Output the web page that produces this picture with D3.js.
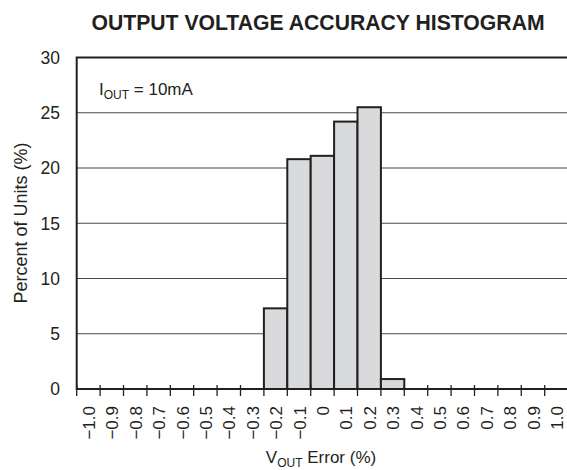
<!DOCTYPE html>
<html>
<head>
<meta charset="utf-8">
<script src="https://cdn.jsdelivr.net/npm/d3@7/dist/d3.min.js"></script>
<style>
  html, body { margin: 0; padding: 0; background: #fff; }
  svg { display: block; }
  text { font-family: "Liberation Sans", Arial, Helvetica, sans-serif; fill: #231f20; }
</style>
</head>
<body>
<svg id="chart" width="567" height="470"></svg>
<script>
// ---- data ----
const binCenters = [-1.0, -0.9, -0.8, -0.7, -0.6, -0.5, -0.4, -0.3, -0.2, -0.1, 0, 0.1, 0.2, 0.3, 0.4, 0.5, 0.6, 0.7, 0.8, 0.9, 1.0];
const binLabels = ["−1.0", "−0.9", "−0.8", "−0.7", "−0.6", "−0.5", "−0.4", "−0.3", "−0.2", "−0.1", "0", "0.1", "0.2", "0.3", "0.4", "0.5", "0.6", "0.7", "0.8", "0.9", "1.0"];
const percentUnits = [0, 0, 0, 0, 0, 0, 0, 0, 7.3, 20.8, 21.1, 24.2, 25.5, 0.9, 0, 0, 0, 0, 0, 0, 0];
const yTicks = [0, 5, 10, 15, 20, 25, 30];
const binWidth = 0.1;

const svg = d3.select("#chart");
const pLeft = 76.7, pRight = 568.1, pTop = 57.5, pBottom = 389;

const x = d3.scaleLinear().domain([-1.05, 1.05]).range([pLeft, pRight]);
const y = d3.scaleLinear().domain([0, 30]).range([pBottom, pTop]);

// title
svg.append("text").attr("x", 318).attr("y", 30).attr("text-anchor", "middle")
  .style("font-size", "21.2px").style("font-weight", "bold").text("OUTPUT VOLTAGE ACCURACY HISTOGRAM");

// gridlines
svg.append("g").selectAll("line").data(yTicks.filter(d => d > 0 && d < 30)).join("line")
  .attr("x1", pLeft).attr("x2", pRight).attr("y1", d => y(d)).attr("y2", d => y(d))
  .attr("stroke", "#4a4a4a").attr("stroke-width", 1.1);

// bars
const bars = binCenters.map((c, i) => ({ c, v: percentUnits[i] })).filter(d => d.v > 0);
svg.append("g").selectAll("rect").data(bars).join("rect")
  .attr("x", d => x(d.c - binWidth / 2)).attr("width", d => x(d.c + binWidth / 2) - x(d.c - binWidth / 2))
  .attr("y", d => y(d.v)).attr("height", d => y(0) - y(d.v))
  .attr("fill", "#d9dadc").attr("stroke", "#231f20").attr("stroke-width", 2);

// frame
svg.append("rect").attr("x", pLeft).attr("y", pTop).attr("width", pRight - pLeft).attr("height", pBottom - pTop)
  .attr("fill", "none").attr("stroke", "#231f20").attr("stroke-width", 2);

// x ticks at bin edges
const edges = binCenters.map(c => c - binWidth / 2).concat([binCenters[binCenters.length - 1] + binWidth / 2]);
svg.append("g").selectAll("line").data(edges).join("line")
  .attr("x1", d => x(d)).attr("x2", d => x(d)).attr("y1", pBottom - 4).attr("y2", pBottom + 7)
  .attr("stroke", "#231f20").attr("stroke-width", 1.3);

// x tick labels (rotated)
svg.append("g").selectAll("text").data(binCenters).join("text")
  .attr("transform", d => `translate(${x(d) + 1},406) rotate(-90)`)
  .attr("text-anchor", "end").attr("dominant-baseline", "central")
  .style("font-size", "17px").text((d, i) => binLabels[i]);

// y tick labels
svg.append("g").selectAll("text").data(yTicks).join("text")
  .attr("x", 60).attr("y", d => y(d)).attr("dy", "0.36em").attr("text-anchor", "end")
  .style("font-size", "17.5px").text(d => d);

// y axis title
svg.append("text").attr("transform", "translate(26.5,223) rotate(-90)").attr("text-anchor", "middle")
  .style("font-size", "18px").text("Percent of Units (%)");

// x axis title
const xt = svg.append("text").attr("x", 321).attr("y", 463).attr("text-anchor", "middle").style("font-size", "17px");
xt.append("tspan").text("V");
xt.append("tspan").attr("dy", 4).style("font-size", "12px").text("OUT");
xt.append("tspan").attr("dy", -4).text(" Error (%)");

// annotation
const an = svg.append("text").attr("x", 99).attr("y", 95).style("font-size", "17px");
an.append("tspan").text("I");
an.append("tspan").attr("dy", 4).style("font-size", "12px").text("OUT");
an.append("tspan").attr("dy", -4).text(" = 10mA");
</script>
</body>
</html>
